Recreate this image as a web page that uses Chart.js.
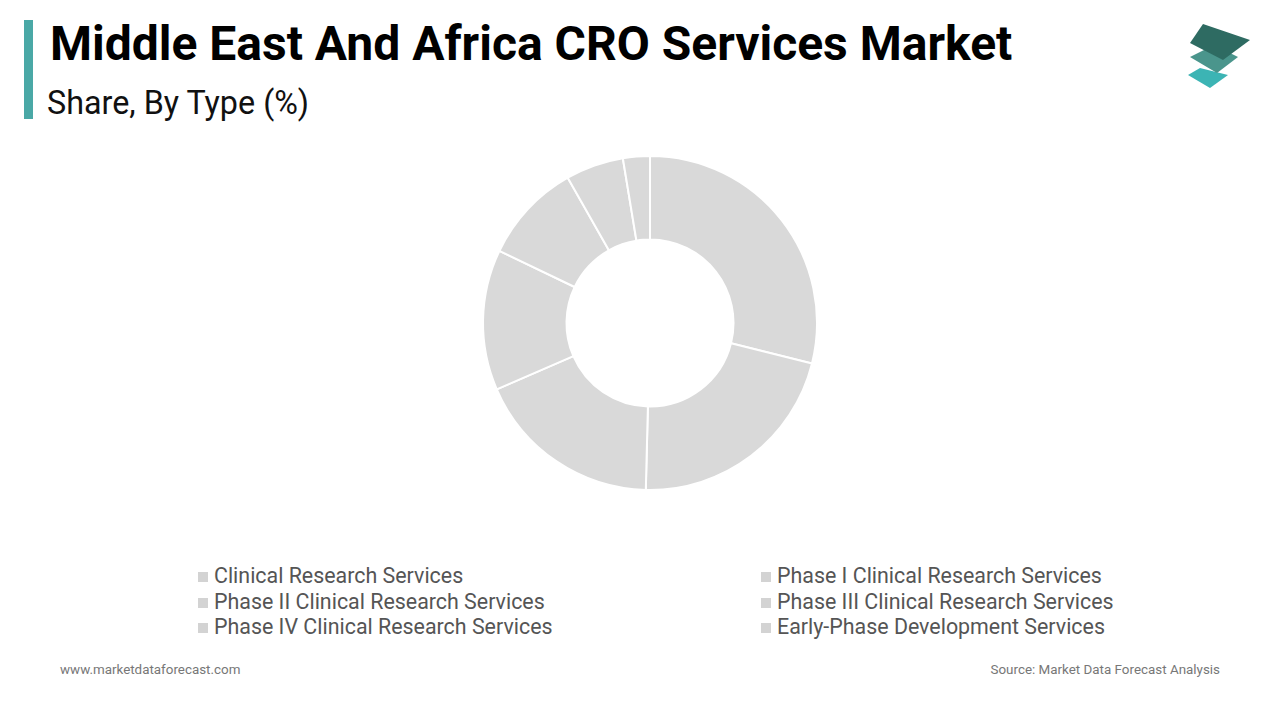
<!DOCTYPE html>
<html>
<head>
<meta charset="utf-8">
<script src="https://cdn.jsdelivr.net/npm/chart.js@4/dist/chart.umd.min.js"></script>
<style>
    body { margin: 0; width: 1280px; height: 720px; background: #fff; font-family: Roboto, "Noto Sans", sans-serif; position: relative; overflow: hidden; }
    .bar { position: absolute; left: 24px; top: 20px; width: 9px; height: 99px; background: #4aa8a6; }
    .title { position: absolute; left: 50px; top: 15px; font-size: 48px; font-weight: bold; color: #000; white-space: nowrap; }
    .subtitle { position: absolute; left: 47px; top: 84px; font-size: 32.3px; color: #111; white-space: nowrap; }
    #share-chart { position: absolute; left: 480px; top: 153px; }
    .legend { position: absolute; top: 563px; left: 0; width: 1280px; }
    .legend-item { position: absolute; font-size: 21.4px; color: #555; white-space: nowrap; height: 25px; line-height: 25px; }
    .legend-item span { display: inline-block; width: 10px; height: 10px; background: #d3d3d3; margin-right: 6px; vertical-align: 1px; }
    .footer { position: absolute; top: 662px; font-size: 13.4px; color: #777; }
    .logo { position: absolute; left: 1184px; top: 18px; }
</style>
</head>
<body>
<div class="bar"></div>
<div class="title">Middle East And Africa CRO Services Market</div>
<div class="subtitle">Share, By Type (%)</div>
<svg class="logo" width="72" height="76" viewBox="0 0 72 76">
    <polygon points="4,57 16,50 44,57 26,70" fill="#3cb4b4"/>
    <polygon points="6,39 30,27 54,39 33,55" fill="#4a958c"/>
    <polygon points="19,6 66,22 39,42 6,25" fill="#2e6b62"/>
</svg>
<canvas id="share-chart" width="340" height="340"></canvas>
<div class="legend" id="legend"></div>
<div class="footer" style="left:60px;">www.marketdataforecast.com</div>
<div class="footer" style="right:60px;">Source: Market Data Forecast Analysis</div>
<script>
const categories = [
    "Clinical Research Services",
    "Phase I Clinical Research Services",
    "Phase II Clinical Research Services",
    "Phase III Clinical Research Services",
    "Phase IV Clinical Research Services",
    "Early-Phase Development Services"
];
// seven slices in the picture, only six named in the legend
const shareValues = [28.9, 21.5, 18.1, 13.6, 9.7, 5.6, 2.6];

let shareChart;

function createShareChart() {
    const shareCanvas = document.getElementById("share-chart");
    shareChart = new Chart(shareCanvas.getContext("2d"), {
        type: "doughnut",
        data: {
            labels: categories.concat([""]),
            datasets: [
                {
                    backgroundColor: "#d9d9d9",
                    borderColor: "#ffffff",
                    borderWidth: 2,
                    data: shareValues
                }
            ]
        },
        options: {
            responsive: false,
            animation: false,
            cutout: "50%",
            layout: { padding: 2 },
            plugins: {
                legend: { display: false },
                tooltip: { enabled: false }
            }
        }
    });
}

function buildLegend() {
    const legend = document.getElementById("legend");
    const cols = [198, 761];
    categories.forEach((name, i) => {
        const item = document.createElement("div");
        item.className = "legend-item";
        item.style.left = cols[i % 2] + "px";
        item.style.top = Math.floor(i / 2) * 25.5 + "px";
        item.innerHTML = "<span></span>" + name;
        legend.appendChild(item);
    });
}

createShareChart();
buildLegend();
</script>
</body>
</html>
